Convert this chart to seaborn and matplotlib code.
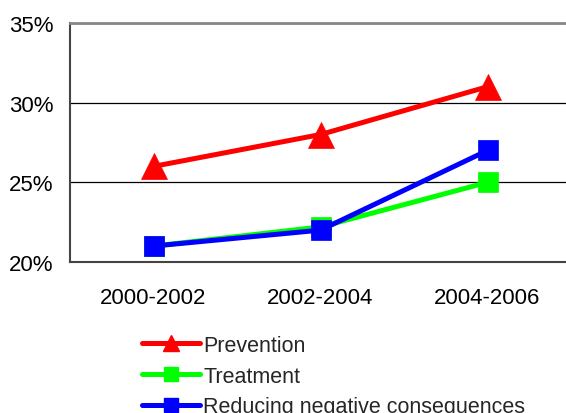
import matplotlib
matplotlib.use("Agg")
import matplotlib.pyplot as plt
from matplotlib.ticker import FixedLocator, PercentFormatter
import seaborn as sns
import pandas as pd

# Share of funding by focus area over three periods
periods = ["2000-2002", "2002-2004", "2004-2006"]
prevention = [26.0, 28.0, 31.0]
treatment = [21.0, 22.2, 25.0]
reducing = [21.0, 22.0, 27.0]
series_names = ["Prevention", "Treatment", "Reducing negative consequences"]
y_ticks = [20, 25, 30, 35]

rows = []
for name, vals in zip(series_names, [prevention, treatment, reducing]):
    for p, v in zip(periods, vals):
        rows.append({"period": p, "value": v, "series": name})
df = pd.DataFrame(rows)

sns.set_theme(style="white")
plt.rcParams["font.family"] = ["Liberation Sans", "DejaVu Sans"]

fig = plt.figure(figsize=(5.66, 4.14), dpi=100)
ax = fig.add_axes([70 / 566, 1 - 263 / 414, 501 / 566, (263 - 24) / 414])

palette = {"Prevention": "#ff0000", "Treatment": "#00ff00",
           "Reducing negative consequences": "#0000ff"}
markers = {"Prevention": "^", "Treatment": "s",
           "Reducing negative consequences": "s"}

sns.lineplot(data=df, x="period", y="value", hue="series", style="series",
             palette=palette, markers=markers, dashes=False, linewidth=3.6,
             markersize=15, markeredgewidth=0.5, ax=ax, legend=False, sort=False)

# triangles drawn a little larger than the squares
for line in ax.lines:
    if line.get_marker() == "^":
        line.set_markersize(19)
    line.set_markeredgecolor(line.get_color())

ax.set_xlim(-0.5, 2.5)
ax.set_ylim(20, 35)
ax.set_yticks(y_ticks)
ax.yaxis.set_major_formatter(PercentFormatter(decimals=0))
ax.set_xlabel("")
ax.set_ylabel("")

ax.yaxis.grid(True, color="black", linewidth=0.9)
ax.set_axisbelow(True)

ax.xaxis.set_minor_locator(FixedLocator([-0.5, 0.5, 1.5, 2.5]))
ax.tick_params(axis="x", which="major", length=0, pad=18, labelsize=16, colors="black")
ax.tick_params(axis="x", which="minor", length=6, width=1, direction="out", color="#333333")
ax.tick_params(axis="y", which="major", length=6, width=1, direction="out",
               pad=6, labelsize=16, color="#333333", labelcolor="black")

for side in ["left", "bottom"]:
    ax.spines[side].set_color("#444444")
    ax.spines[side].set_linewidth(1.5)
ax.spines["top"].set_color("#888888")
ax.spines["top"].set_linewidth(2)
ax.spines["right"].set_visible(False)

handles = [plt.Line2D([], [], color=palette[n], marker=markers[n], linewidth=3.6,
                      markersize=10 if markers[n] == "s" else 11,
                      markeredgecolor=palette[n]) for n in series_names]
fig.legend(handles, series_names, loc="upper left",
           bbox_to_anchor=(142 / 566, 1 - 336 / 414), frameon=False,
           fontsize=15.5, handlelength=2.7, handletextpad=0.15,
           labelspacing=0.45, borderpad=0, borderaxespad=0)

fig.savefig("out.png", dpi=100)
